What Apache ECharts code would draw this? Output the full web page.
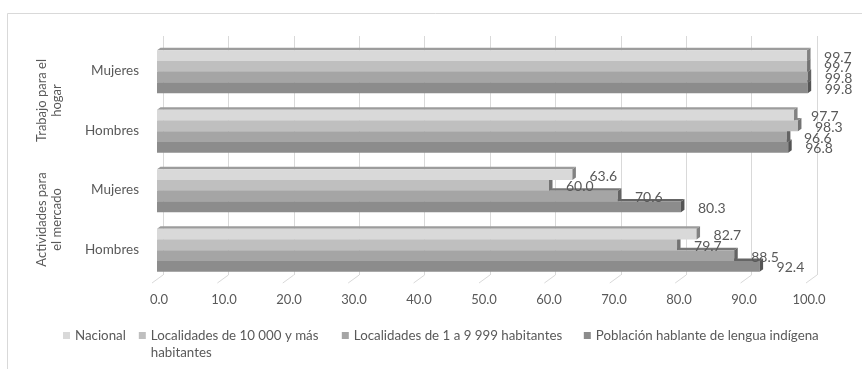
<!DOCTYPE html>
<html>
<head>
<meta charset="utf-8">
<script src="https://cdn.jsdelivr.net/npm/echarts@6/dist/echarts.min.js"></script>
<style>
  html, body { margin: 0; padding: 0; background: #fff; }
  #chart { width: 862px; height: 369px; }
</style>
</head>
<body>
<div id="chart"></div>
<script>
// Categories, bottom to top
const categories = ['Hombres', 'Mujeres', 'Hombres', 'Mujeres'];
// Group labels, bottom to top
const groupLabels = ['Actividades para\nel mercado', 'Trabajo para el\nhogar'];

const seriesNames = [
  'Nacional',
  'Localidades de 10 000 y más habitantes',
  'Localidades de 1 a 9 999 habitantes',
  'Población hablante de lengua indígena'
];

// Values per series, in category order
const nacional     = [82.7, 63.6, 97.7, 99.7];
const loc10000     = [79.7, 60.0, 98.3, 99.7];
const loc1a9999    = [88.5, 70.6, 96.6, 99.8];
const hablanteLI   = [92.4, 80.3, 96.8, 99.8];

const xTicks = [0, 10, 20, 30, 40, 50, 60, 70, 80, 90, 100];

const seriesValues = [nacional, loc10000, loc1a9999, hablanteLI];
const colors = ['#d9d9d9', '#bfbfbf', '#a5a5a5', '#8c8c8c'];

const FONT = 'Lato, "Open Sans", sans-serif';
const TEXT = '#595959';

function shade(hex, f) {
  const n = parseInt(hex.slice(1), 16);
  const r = Math.round(((n >> 16) & 255) * f);
  const g = Math.round(((n >> 8) & 255) * f);
  const b = Math.round((n & 255) * f);
  return 'rgb(' + r + ',' + g + ',' + b + ')';
}

// 3D-looking horizontal bar: front face, top face and right side face
function makeRenderer(slot, color) {
  const DX = 3.5, DY = 2.5;
  return function (params, api) {
    const v = api.value(0);
    const cat = api.value(1);
    const p0 = api.coord([0, cat]);
    const p1 = api.coord([v, cat]);
    const band = api.size([0, 1])[1];
    const h = band * 0.18;
    const top = p0[1] - 2 * h + 1 + slot * h;
    const x0 = p0[0] - 2, x1 = p1[0];
    return {
      type: 'group',
      children: [
        {
          type: 'polygon',
          shape: { points: [[x0, top], [x1, top], [x1 + DX, top - DY], [x0 + DX, top - DY]] },
          style: { fill: shade(color, 0.72) }
        },
        {
          type: 'rect',
          shape: { x: x0, y: top, width: x1 - x0, height: h },
          style: { fill: color }
        },
        {
          type: 'polygon',
          shape: { points: [[x1, top], [x1 + DX, top - DY], [x1 + DX, top + h - DY], [x1, top + h]] },
          style: { fill: shade(color, 0.6) }
        },
        {
          type: 'text',
          style: {
            text: v.toFixed(1),
            x: x1 + 17,
            y: top + h / 2 + 1.5,
            fill: TEXT,
            fontSize: 14,
            fontFamily: FONT,
            align: 'left',
            verticalAlign: 'middle'
          }
        }
      ]
    };
  };
}

const barSeries = seriesNames.map(function (name, i) {
  return {
    name: name,
    type: 'custom',
    xAxisIndex: 0,
    yAxisIndex: 0,
    z: 10 - i,
    clip: false,
    itemStyle: { color: colors[i] },
    encode: { x: 0, y: 1 },
    data: seriesValues[i].map(function (v, c) { return [v, c]; }),
    renderItem: makeRenderer(i, colors[i])
  };
});

// Slanted floor ticks at the foot of the back wall
const floorSeries = {
  type: 'custom',
  xAxisIndex: 1,
  yAxisIndex: 2,
  z: 1,
  silent: true,
  clip: false,
  encode: { x: 0 },
  data: xTicks.map(function (t) { return [t]; }),
  renderItem: function (params, api) {
    const p = api.coord([api.value(0), 0]);
    return {
      type: 'line',
      shape: { x1: p[0], y1: p[1], x2: p[0] - 11, y2: p[1] + 8 },
      style: { stroke: '#d9d9d9', lineWidth: 1 }
    };
  }
};

// Legend entries; the long entry wraps, its first line level with the swatch
const legendData = seriesNames.map(function (name, i) {
  const item = { name: name, itemStyle: { color: colors[i] } };
  if (i === 1) item.textStyle = { width: 178 };
  if (i === 2) item.textStyle = { width: 217 };
  return item;
});

const chart = echarts.init(document.getElementById('chart'), null, { renderer: 'canvas' });
chart.setOption({
  animation: false,
  backgroundColor: '#ffffff',
  graphic: [{
    type: 'rect',
    silent: true,
    z: -10,
    shape: { x: 7.5, y: 13.5, width: 900, height: 400 },
    style: { fill: null, stroke: '#d9d9d9', lineWidth: 1 }
  }],
  grid: [
    { left: 159, right: 53, top: 41, bottom: 90 },   // front plane
    { left: 163, right: 45, top: 36, bottom: 94 }    // back wall
  ],
  xAxis: [
    {
      gridIndex: 0,
      type: 'value',
      min: 0, max: 100, interval: 10,
      axisLine: { show: false },
      axisTick: { show: false },
      splitLine: { show: false },
      axisLabel: {
        margin: 14,
        color: TEXT,
        fontSize: 13,
        fontFamily: FONT,
        formatter: function (v) { return v.toFixed(1); }
      }
    },
    {
      gridIndex: 1,
      type: 'value',
      min: 0, max: 100, interval: 10,
      axisLine: { show: false },
      axisTick: { show: false },
      axisLabel: { show: false },
      splitLine: { show: true, lineStyle: { color: '#d9d9d9', width: 1 } }
    }
  ],
  yAxis: [
    {
      gridIndex: 0,
      type: 'category',
      data: categories,
      axisLine: { show: false },
      axisTick: { show: false },
      splitLine: { show: false },
      axisLabel: { interval: 0, margin: 20, color: TEXT, fontSize: 13.5, fontFamily: FONT }
    },
    {
      gridIndex: 0,
      type: 'category',
      data: groupLabels,
      position: 'left',
      offset: 87,
      axisLine: { show: false },
      axisTick: { show: false },
      splitLine: { show: false },
      axisLabel: {
        interval: 0,
        hideOverlap: false,
        rotate: 90,
        margin: 8,
        color: TEXT,
        fontSize: 13,
        lineHeight: 15,
        fontFamily: FONT,
        align: 'center'
      }
    },
    {
      gridIndex: 1,
      type: 'value',
      min: 0, max: 1,
      show: false
    }
  ],
  legend: {
    left: 63,
    top: 310,
    padding: 0,
    itemWidth: 7,
    itemHeight: 7,
    itemGap: 13,
    icon: 'rect',
    textStyle: { color: TEXT, fontSize: 13.3, fontFamily: FONT, lineHeight: 17 },
    formatter: function (name) {
      return name.indexOf('más ') >= 0 ? '\n' + name.replace('más ', 'más\n') : name;
    },
    data: legendData
  },
  series: barSeries.concat([floorSeries])
});
</script>
</body>
</html>
